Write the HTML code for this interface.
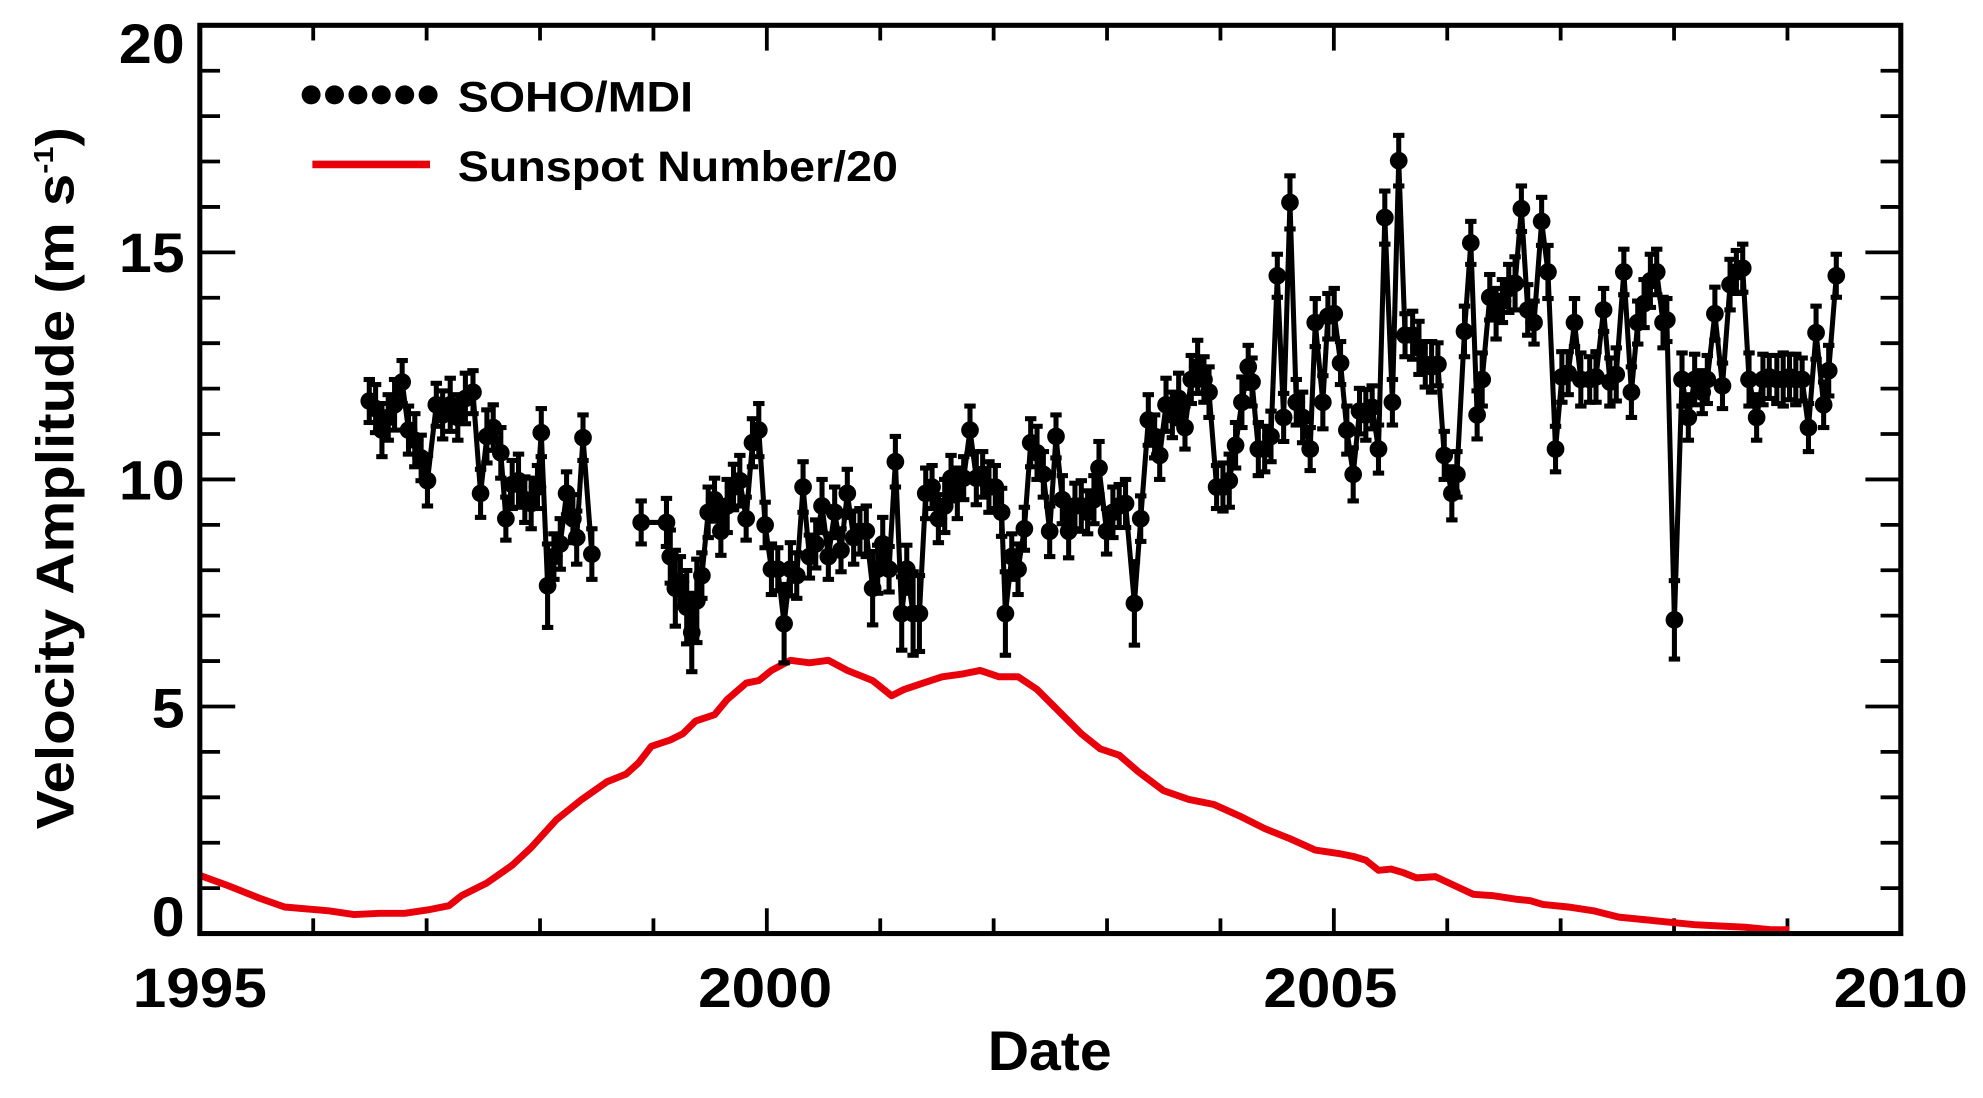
<!DOCTYPE html>
<html><head><meta charset="utf-8"><style>
html,body{margin:0;padding:0;background:#fff;overflow:hidden}
svg{display:block}
text{font-family:"Liberation Sans",Arial,sans-serif;font-weight:bold;fill:#000}
</style></head><body>
<svg id="s" width="1983" height="1098" viewBox="0 0 1568 868" preserveAspectRatio="none" xmlns="http://www.w3.org/2000/svg">
<g id="ticks" stroke="#000" stroke-width="3"></g>
<g id="red"></g>
<g id="blk"></g>
<rect x="158" y="20" width="1345" height="718" fill="none" stroke="#000" stroke-width="4"/>
<g font-size="44" text-anchor="end">
<text x="146" y="50" textLength="52" lengthAdjust="spacingAndGlyphs">20</text>
<text x="146" y="215" textLength="52" lengthAdjust="spacingAndGlyphs">15</text>
<text x="146" y="395" textLength="52" lengthAdjust="spacingAndGlyphs">10</text>
<text x="146" y="575" textLength="26" lengthAdjust="spacingAndGlyphs">5</text>
<text x="146" y="740" textLength="26" lengthAdjust="spacingAndGlyphs">0</text>
</g>
<g font-size="44" text-anchor="middle">
<text x="158" y="796" textLength="106" lengthAdjust="spacingAndGlyphs">1995</text>
<text x="605" y="796" textLength="106" lengthAdjust="spacingAndGlyphs">2000</text>
<text x="1052" y="796" textLength="106" lengthAdjust="spacingAndGlyphs">2005</text>
<text x="1503" y="796" textLength="106" lengthAdjust="spacingAndGlyphs">2010</text>
<text x="830" y="846" textLength="98" lengthAdjust="spacingAndGlyphs">Date</text>
</g>
<text transform="translate(58,378) rotate(-90)" font-size="42" text-anchor="middle" textLength="555" lengthAdjust="spacingAndGlyphs">Velocity Amplitude (m s<tspan dy="-16" font-size="22">-1</tspan><tspan dy="16">)</tspan></text>
<g id="leg"></g>
<text x="362" y="88" font-size="34" textLength="186" lengthAdjust="spacingAndGlyphs">SOHO/MDI</text>
<text x="362" y="143" font-size="34" textLength="348" lengthAdjust="spacingAndGlyphs">Sunspot Number/20</text>
<line x1="247" y1="130" x2="340" y2="130" stroke="#e8000b" stroke-width="6"/>
</svg>
<script>
const NS="http://www.w3.org/2000/svg";
function el(p,t,a){const e=document.createElementNS(NS,t);for(const k in a)e.setAttribute(k,a[k]);p.appendChild(e);return e;}
const T=document.getElementById('ticks');
for(let i=1;i<15;i++){const x=158+i*89.67;const L=(i%5==0)?20:12;
el(T,'line',{x1:x,y1:738,x2:x,y2:738-L});el(T,'line',{x1:x,y1:20,x2:x,y2:20+L});}
for(let i=1;i<20;i++){const y=738-i*35.9;const L=(i%5==0)?28:16;
el(T,'line',{x1:158,y1:y,x2:158+L,y2:y});el(T,'line',{x1:1503,y1:y,x2:1503-L,y2:y});}
const red=[[158,692],[180,700],[205,710],[225,717],[260,720],[280,723],[300,722],[320,722],[340,719],[355,716],[365,708],[385,698],[405,684],[420,670],[440,648],[460,632],[480,618],[495,612],[505,603],[515,590],[530,585],[540,580],[550,570],[565,565],[575,553],[590,540],[600,538],[610,530],[625,522],[640,524],[655,522],[670,530],[690,538],[705,550],[715,545],[730,540],[745,535],[760,533],[775,530],[790,535],[805,535],[820,545],[835,560],[855,580],[870,592],[885,597],[900,610],[920,625],[940,632],[960,636],[980,645],[1000,655],[1020,663],[1040,672],[1060,675],[1070,677],[1080,680],[1090,688],[1100,687],[1110,690],[1120,694],[1135,693],[1150,700],[1165,707],[1180,708],[1200,711],[1210,712],[1220,715],[1240,717],[1260,720],[1280,725],[1300,727],[1320,729],[1340,731],[1360,732],[1380,733],[1400,735],[1415,735]];
el(document.getElementById('red'),'polyline',{points:red.map(p=>p.join(',')).join(' '),fill:'none',stroke:'#e8000b','stroke-width':5.5,'stroke-linejoin':'round'});
const s1=[[292,317],[297,323],[302,340],[307,330],[312,320],[318,302],[323,340],[328,348],[333,362],[338,380],[345,320],[350,328],[356,320],[362,330],[368,315],[374,310],[380,390],[385,345],[390,338],[396,358],[400,410],[405,383],[410,380],[415,395],[420,398],[425,385],[428,342],[433,463],[438,440],[443,430],[448,390],[453,410],[456,425],[461,346],[468,438]];
const s2=[[507,413],[527,413],[530,440],[534,465],[538,460],[543,480],[547,500],[551,475],[555,455],[560,405],[565,395],[570,420],[575,400],[580,385],[585,380],[590,410],[595,350],[600,340],[605,415],[610,450],[615,450],[620,493],[625,450],[630,455],[635,385],[640,440],[645,430],[650,400],[655,440],[660,405],[665,435],[670,390],[675,425],[680,420],[685,420],[690,465],[694,450],[698,430],[703,450],[708,365],[713,485],[717,450],[722,485],[727,485],[732,390],[737,385],[742,410],[747,400],[752,378],[757,390],[762,378],[767,340],[772,378],[777,375],[782,385],[787,385],[792,405],[795,485],[800,440],[805,450],[810,418],[815,350],[820,358],[825,375],[830,420],[835,345],[840,395],[845,420],[850,400],[855,400],[860,405],[865,395],[869,370],[875,420],[880,405],[885,400],[890,398],[897,477],[902,410],[908,332],[913,345],[917,360],[922,320],[927,328],[932,315],[937,338],[942,300],[947,290],[952,300],[956,310],[962,385],[967,385],[972,380],[977,352],[982,318],[987,290],[990,302],[995,355],[1000,355],[1005,345],[1010,218],[1015,330],[1020,160],[1025,318],[1030,330],[1036,355],[1040,255],[1046,318],[1050,250],[1055,248],[1060,287],[1065,340],[1070,375],[1075,325],[1080,328],[1085,322],[1090,355],[1095,172],[1101,318],[1106,127],[1111,265],[1117,265],[1122,275],[1127,288],[1132,290],[1137,288],[1142,360],[1148,390],[1152,375],[1158,262],[1163,192],[1168,328],[1172,300],[1178,235],[1183,248],[1188,238],[1193,228],[1198,224],[1203,165],[1208,245],[1213,255],[1219,175],[1224,215],[1230,355],[1235,298],[1240,295],[1245,255],[1250,300],[1257,300],[1262,298],[1268,245],[1273,302],[1278,296],[1284,215],[1290,310],[1295,255],[1300,240],[1305,222],[1310,215],[1315,255],[1318,253],[1324,490],[1330,300],[1335,330],[1340,300],[1346,310],[1350,300],[1356,248],[1362,305],[1368,225],[1373,215],[1378,212],[1383,300],[1389,330],[1394,300],[1399,298],[1405,300],[1410,300],[1415,298],[1420,300],[1425,300],[1430,338],[1436,263],[1442,320],[1446,293],[1452,218]];
const B=document.getElementById('blk');
for(const s of [s1,s2]){
el(B,'polyline',{points:s.map(p=>p.join(',')).join(' '),fill:'none',stroke:'#000','stroke-width':4,'stroke-linejoin':'round'});
s.forEach((p,i)=>{const e=(i*7%5)+17+(p[1]>460?12:0);
el(B,'line',{x1:p[0],y1:p[1]-e,x2:p[0],y2:p[1]+e,stroke:'#000','stroke-width':4});
el(B,'line',{x1:p[0]-4.5,y1:p[1]-e,x2:p[0]+4.5,y2:p[1]-e,stroke:'#000','stroke-width':4});
el(B,'line',{x1:p[0]-4.5,y1:p[1]+e,x2:p[0]+4.5,y2:p[1]+e,stroke:'#000','stroke-width':4});
el(B,'circle',{cx:p[0],cy:p[1],r:7,fill:'#000'});});}
const G=document.getElementById('leg');
for(let i=0;i<6;i++)el(G,'circle',{cx:246+i*18.5,cy:75,r:7.5,fill:'#000'});
</script>
</body></html>
